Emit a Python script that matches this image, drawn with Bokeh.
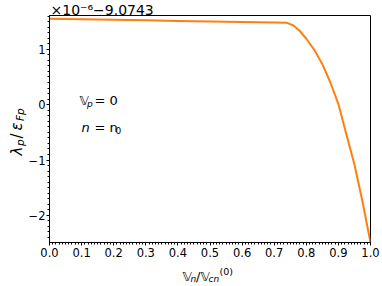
import numpy as np
from bokeh.plotting import figure
from bokeh.layouts import column
from bokeh.models import Label, FixedTicker, ColumnDataSource
from bokeh.embed import file_html
from bokeh.resources import INLINE

# data
x_vals = [0.0, 0.1, 0.2, 0.3, 0.4, 0.5, 0.6, 0.7, 0.74, 0.76, 0.78, 0.80,
          0.825, 0.85, 0.875, 0.90, 0.925, 0.95, 0.975, 1.0]
y_vals = [1.550, 1.541, 1.531, 1.522, 1.512, 1.503, 1.494, 1.485, 1.478, 1.43,
          1.33, 1.19, 0.99, 0.73, 0.40, 0.01, -0.54, -1.08, -1.75, -2.49]
x_ticks = [0.0, 0.1, 0.2, 0.3, 0.4, 0.5, 0.6, 0.7, 0.8, 0.9, 1.0]
x_tick_labels = ["0.0", "0.1", "0.2", "0.3", "0.4", "0.5", "0.6", "0.7", "0.8", "0.9", "1.0"]
y_ticks = [-2, -1, 0, 1]
y_tick_labels = ["\u22122", "\u22121", "0", "1"]
offset_text = "\u00d710\u207b\u2076\u22129.0743"

FONT = "DejaVu Sans"
W, H = 382, 286
DY = -4  # small vertical correction for the overlay texts

p = figure(width=W, height=H, output_backend="svg", toolbar_location=None,
           x_range=(0.0, 1.0), y_range=(-2.49, 1.61),
           min_border_left=49, min_border_right=12, min_border_top=15,
           min_border_bottom=44)
p.background_fill_color = "white"
p.border_fill_color = "white"
p.outline_line_color = "black"
p.outline_line_width = 1
p.outline_line_alpha = 1
p.xgrid.visible = False
p.ygrid.visible = False

src = ColumnDataSource(dict(x=x_vals, y=y_vals))
p.line("x", "y", source=src, line_color="#ff7f0e", line_width=2)

p.xaxis.ticker = FixedTicker(ticks=x_ticks, minor_ticks=list(np.round(np.arange(0, 1.0001, 0.01), 3)))
p.xaxis.major_label_overrides = {t: l for t, l in zip(x_ticks, x_tick_labels)}
p.yaxis.ticker = FixedTicker(ticks=y_ticks, minor_ticks=list(np.round(np.arange(-2.4, 1.61, 0.1), 2)))
p.yaxis.major_label_overrides = {t: l for t, l in zip(y_ticks, y_tick_labels)}

for ax in (p.xaxis[0], p.yaxis[0]):
    ax.axis_line_color = "black"
    ax.major_tick_line_color = "black"
    ax.minor_tick_line_color = "black"
    ax.major_tick_in = 0
    ax.major_tick_out = 3
    ax.minor_tick_in = 0
    ax.minor_tick_out = 2
    ax.major_label_text_font = FONT
    ax.major_label_text_font_size = "11.5px"
    ax.major_label_text_color = "black"
p.xaxis.major_label_standoff = 2
p.yaxis.major_label_standoff = 1

# transparent overlay canvas carrying the composed (sub/superscripted) texts
q = figure(width=W, height=H, output_backend="svg", toolbar_location=None,
           x_range=(0, W), y_range=(0, H), min_border=0,
           min_border_left=0, min_border_right=0, min_border_top=0, min_border_bottom=0,
           x_axis_location=None, y_axis_location=None)
q.background_fill_color = None
q.border_fill_color = None
q.outline_line_color = None
q.xgrid.visible = False
q.ygrid.visible = False
q.styles = {"margin-top": f"-{H}px"}
for fig in (p, q):
    if "frame_align" in fig.properties():
        fig.frame_align = False


def piece(text, px, py, size, italic=False, angle=0.0):
    q.add_layout(Label(x=px, y=H - (py + DY), x_units="screen", y_units="screen",
                       text=text, text_font=FONT, text_font_size=f"{size}px",
                       text_font_style="italic" if italic else "normal",
                       angle=angle, text_align="left", text_baseline="alphabetic",
                       text_color="black"))


# offset text above the frame
piece(offset_text, 50, 13.3, 14)

# in-plot annotations
piece("\U0001D54D", 79, 104.3, 13)
piece("p", 86.5, 107, 9, italic=True)
piece("= 0", 94, 104.3, 13)
piece("n", 81, 131, 13, italic=True)
piece("= n", 94, 131, 13)
piece("0", 115, 133.5, 9)

# x axis label: V_n / V_cn^(0)
piece("\U0001D54D", 182, 280, 13)
piece("n", 190, 282.5, 9, italic=True)
piece("/", 195.5, 280, 13)
piece("\U0001D54D", 200, 280, 13)
piece("cn", 208, 282.5, 9, italic=True)
piece("(0)", 219, 274.5, 9.5)

# y axis label: lambda_p / epsilon_Fp (rotated)
A = np.pi / 2
piece("\u03bb", 16, 159, 15, italic=True, angle=A)
piece("p", 19, 149.5, 10.5, italic=True, angle=A)
piece("/", 16, 142, 15, angle=A)
piece("\u03b5", 16, 134, 15, italic=True, angle=A)
piece("Fp", 19, 124.5, 10.5, italic=True, angle=A)

root = column(p, q)
open("out.html", "w").write(file_html(root, INLINE))
